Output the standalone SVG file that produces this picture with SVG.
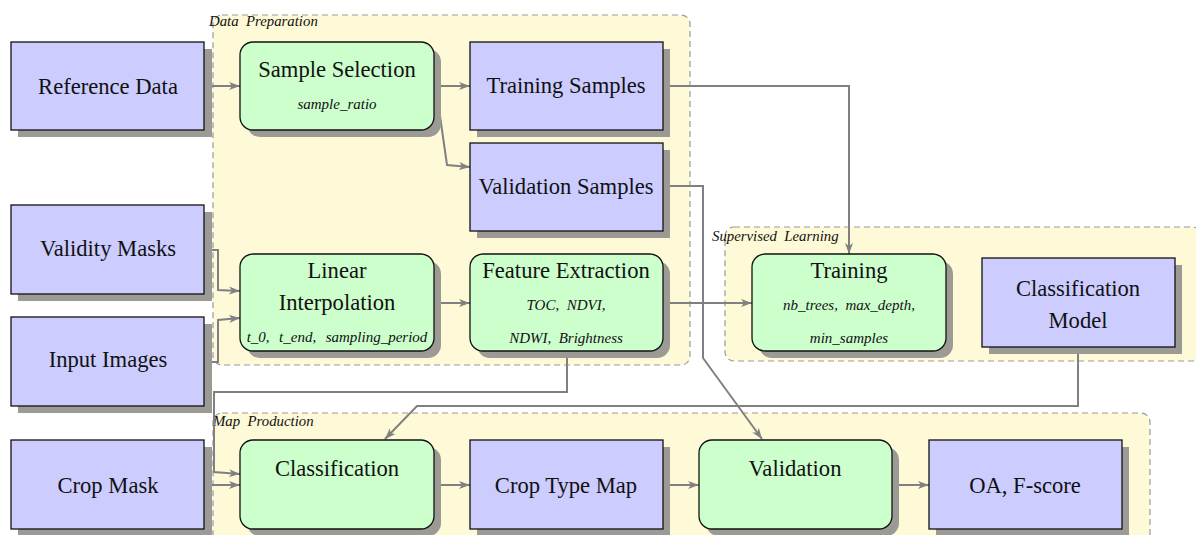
<svg xmlns="http://www.w3.org/2000/svg" width="1196" height="535" viewBox="0 0 1196 535">
<defs>
<marker id="ah" markerUnits="userSpaceOnUse" markerWidth="12" markerHeight="10" refX="11" refY="4.5" orient="auto">
<path d="M0,0.5 L11,4.5 L0,8.5 L3,4.5 z" fill="#808080"/>
</marker>
</defs>
<style>
.reg{fill:#fef9d7;stroke:#999999;stroke-width:1.2;stroke-dasharray:6,4}
.rl{font-family:'Liberation Serif','Times New Roman','DejaVu Serif',serif;font-style:italic;font-size:14.8px;fill:#111}
.sh{fill:#9b9a94}
.b{fill:#ccccff;stroke:#111;stroke-width:1.3}
.g{fill:#ccffcc;stroke:#111;stroke-width:1.3}
.t{font-family:'Liberation Serif','Times New Roman','DejaVu Serif',serif;font-size:22.6px;fill:#111;text-anchor:middle}
.p{font-family:'Liberation Serif','Times New Roman','DejaVu Serif',serif;font-style:italic;font-size:15px;fill:#111;text-anchor:middle}
.c{fill:none;stroke:#808080;stroke-width:2;marker-end:url(#ah)}
</style>
<rect width="1196" height="535" fill="#ffffff"/>
<g id="regions">
<rect class="reg" x="213" y="15" width="477" height="350" rx="9"/>
<text class="rl" x="209" y="26" xml:space="preserve">Data  Preparation</text>
<rect class="reg" x="725" y="227" width="476" height="134" rx="9"/>
<text class="rl" x="712" y="241" xml:space="preserve">Supervised  Learning</text>
<rect class="reg" x="213" y="413" width="937" height="140" rx="9"/>
<text class="rl" x="213" y="426" xml:space="preserve">Map  Production</text>
</g>
<g id="connectors">
<path class="c" d="M204,86 L240,86"/>
<path class="c" d="M435,86 L470,86"/>
<path class="c" d="M436,88 L447,165 L470,167"/>
<path class="c" d="M663,86 L849,86 L849,254"/>
<path class="c" d="M663,186 L703,186 L703,358 L762,439"/>
<path class="c" d="M204,250 L218,250 L218,290 L240,291"/>
<path class="c" d="M204,362 L218,362 L218,320 L240,318"/>
<path class="c" d="M434,303 L470,303"/>
<path class="c" d="M663,303 L752,303"/>
<path class="c" d="M567,352 L567,392 L214,392 L214,472 L240,474"/>
<path class="c" d="M1078,347 L1078,406 L417,406 L385,439"/>
<path class="c" d="M204,485 L240,485"/>
<path class="c" d="M434,485 L470,485"/>
<path class="c" d="M663,485 L699,485"/>
<path class="c" d="M892,485 L929,485"/>
</g>
<g id="reference-data">
<rect class="sh" x="18" y="49" width="194" height="88"/>
<rect class="b" x="11" y="42" width="193" height="88"/>
<text class="t" x="108" y="94">Reference Data</text>
</g>
<g id="sample-selection">
<rect class="sh" x="247" y="49" width="194" height="88" rx="13"/>
<rect class="g" x="240" y="42" width="194" height="88" rx="13"/>
<text class="t" x="337" y="77">Sample Selection</text>
<text class="p" x="337" y="109">sample_ratio</text>
</g>
<g id="training-samples">
<rect class="sh" x="477" y="49" width="193" height="88"/>
<rect class="b" x="470" y="42" width="193" height="88"/>
<text class="t" x="566" y="93">Training Samples</text>
</g>
<g id="validation-samples">
<rect class="sh" x="477" y="150" width="193" height="88"/>
<rect class="b" x="470" y="143" width="193" height="88"/>
<text class="t" x="566" y="194">Validation Samples</text>
</g>
<g id="validity-masks">
<rect class="sh" x="18" y="212" width="194" height="89"/>
<rect class="b" x="11" y="205" width="193" height="89"/>
<text class="t" x="108" y="256">Validity Masks</text>
</g>
<g id="input-images">
<rect class="sh" x="18" y="324" width="194" height="89"/>
<rect class="b" x="11" y="317" width="193" height="89"/>
<text class="t" x="108" y="367">Input Images</text>
</g>
<g id="linear-interpolation">
<rect class="sh" x="247" y="261" width="194" height="97" rx="13"/>
<rect class="g" x="240" y="254" width="194" height="97" rx="13"/>
<text class="t" x="337" y="278">Linear</text>
<text class="t" x="337" y="310">Interpolation</text>
<text class="p" x="337" y="342" xml:space="preserve" word-spacing="1">t_0,  t_end,  sampling_period</text>
</g>
<g id="feature-extraction">
<rect class="sh" x="477" y="261" width="193" height="97" rx="13"/>
<rect class="g" x="470" y="254" width="193" height="97" rx="13"/>
<text class="t" x="566" y="278">Feature Extraction</text>
<text class="p" x="566" y="310" xml:space="preserve">TOC,  NDVI,</text>
<text class="p" x="566" y="343" xml:space="preserve">NDWI,  Brightness</text>
</g>
<g id="training">
<rect class="sh" x="759" y="261" width="194" height="97" rx="13"/>
<rect class="g" x="752" y="254" width="194" height="97" rx="13"/>
<text class="t" x="849" y="278">Training</text>
<text class="p" x="849" y="310" xml:space="preserve">nb_trees,  max_depth,</text>
<text class="p" x="849" y="343">min_samples</text>
</g>
<g id="classification-model">
<rect class="sh" x="989" y="265" width="193" height="89"/>
<rect class="b" x="982" y="258" width="193" height="89"/>
<text class="t" x="1078" y="296">Classification</text>
<text class="t" x="1078" y="328">Model</text>
</g>
<g id="crop-mask">
<rect class="sh" x="18" y="447" width="194" height="89"/>
<rect class="b" x="11" y="440" width="193" height="89"/>
<text class="t" x="108" y="493">Crop Mask</text>
</g>
<g id="classification">
<rect class="sh" x="247" y="447" width="194" height="89" rx="13"/>
<rect class="g" x="240" y="440" width="194" height="89" rx="13"/>
<text class="t" x="337" y="476">Classification</text>
</g>
<g id="crop-type-map">
<rect class="sh" x="477" y="447" width="193" height="89"/>
<rect class="b" x="470" y="440" width="193" height="89"/>
<text class="t" x="566" y="493">Crop Type Map</text>
</g>
<g id="validation">
<rect class="sh" x="706" y="447" width="193" height="89" rx="13"/>
<rect class="g" x="699" y="440" width="193" height="89" rx="13"/>
<text class="t" x="795" y="476">Validation</text>
</g>
<g id="oa-fscore">
<rect class="sh" x="936" y="447" width="193" height="89"/>
<rect class="b" x="929" y="440" width="193" height="89"/>
<text class="t" x="1025" y="493">OA, F-score</text>
</g>
</svg>
